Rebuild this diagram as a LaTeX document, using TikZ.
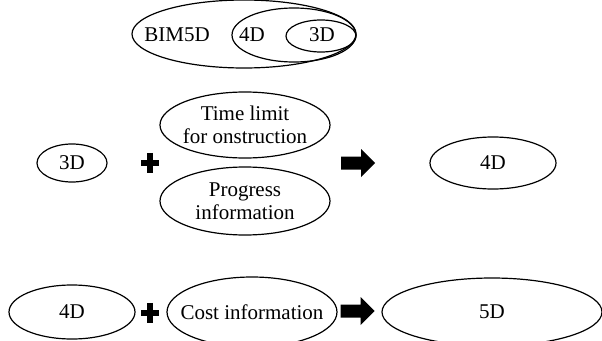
\documentclass[tikz,border=0pt]{standalone}
\usepackage{fontspec}
\setmainfont{Liberation Serif}
\usetikzlibrary{shapes.geometric}

\newcommand{\fatarrow}[1]{%
    \fill (#1) ++(0, -6.5) -- ++(20, 0) -- ++(0, -7.5) -- ++(14, 14)
        -- ++(-14, 14) -- ++(0, -7.5) -- ++(-20, 0) -- cycle;}

\begin{document}
\begin{tikzpicture}[x=1pt, y=-1pt, line width=1.2pt,
        font=\fontsize{21}{23}\selectfont,
        oval/.style={draw, ellipse, inner sep=0pt},
        plusbox/.style={minimum width=16pt, minimum height=19pt, inner sep=0pt}]
    \useasboundingbox (0, 0) rectangle (602, 340);

    % nested ellipses at the top
    \node[oval, minimum width=224pt, minimum height=68pt] (bim) at (244, 34) {};
    \node[oval, minimum width=124pt, minimum height=54pt] (inner4) at (294, 35) {};
    \node[oval, minimum width=70pt, minimum height=32pt] (inner3) at (321, 36) {};
    \node (bimtxt) at (177, 35) {BIM5D};
    \node (fourtxt) at (252, 35) {4D};
    \node (threetxt) at (322, 35) {3D};

    % 3D + time + progress => 4D
    \node[oval, minimum width=70pt, minimum height=38pt] (d3) at (72, 163) {};
    \node (d3txt) at (d3) {3D};
    \node[plusbox] (plusA) at (150, 163) {};
    \draw[line width=6pt] (plusA.west) -- (plusA.east) (plusA.north) -- (plusA.south);
    \node[oval, minimum width=170pt, minimum height=66pt] (time) at (245, 125) {};
    \node[align=center] (timetxt) at (time) {Time limit\\for onstruction};
    \node[oval, minimum width=170pt, minimum height=68pt] (prog) at (245, 201) {};
    \node[align=center] (progtxt) at (prog) {Progress\\information};
    \coordinate (arrA) at (341, 163);
    \fatarrow{arrA}
    \node[oval, minimum width=126pt, minimum height=52pt] (d4) at (493, 163) {};
    \node (d4txt) at (d4) {4D};

    % 4D + cost => 5D
    \node[oval, minimum width=126pt, minimum height=54pt] (d4b) at (72, 312) {};
    \node (d4btxt) at (d4b) {4D};
    \node[plusbox] (plusB) at (150, 313) {};
    \draw[line width=6pt] (plusB.west) -- (plusB.east) (plusB.north) -- (plusB.south);
    \node[oval, minimum width=170pt, minimum height=70pt] (cost) at (252, 312) {};
    \node (costtxt) at (cost) {Cost information};
    \coordinate (arrB) at (340.5, 311);
    \fatarrow{arrB}
    \node[oval, minimum width=220pt, minimum height=68pt] (d5) at (492, 312) {};
    \node (d5txt) at (d5) {5D};
\end{tikzpicture}
\end{document}
